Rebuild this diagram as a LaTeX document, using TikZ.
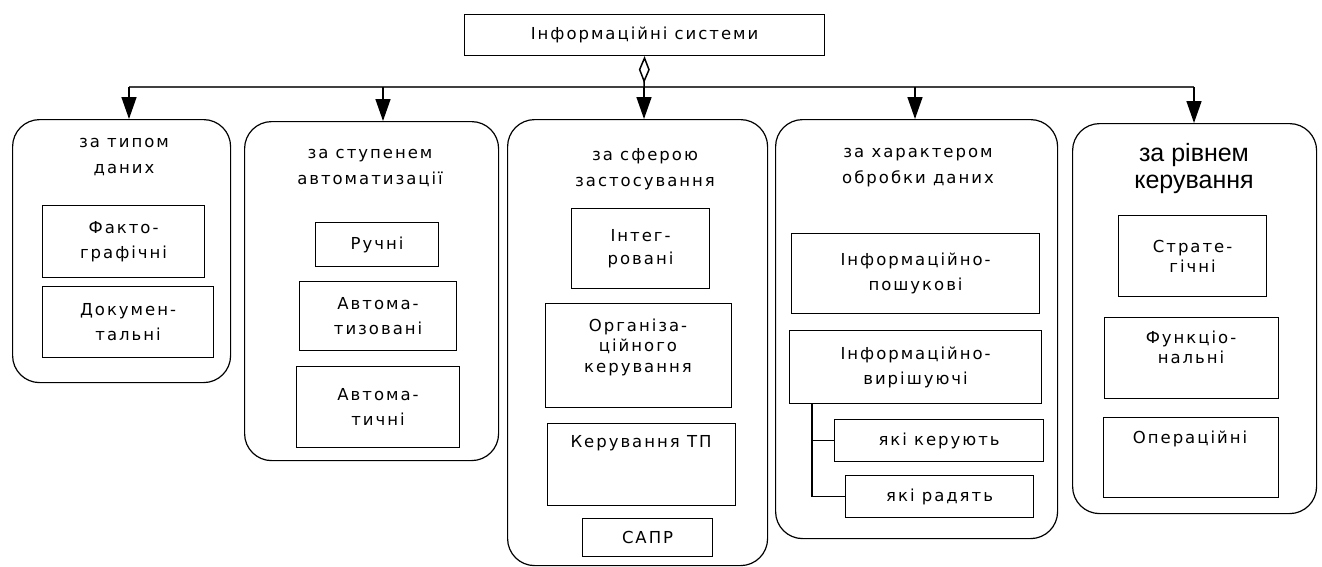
\documentclass[tikz,border=0pt]{standalone}
\usepackage{fontspec}
\setmainfont{DejaVu Sans}[LetterSpace=12]
\newfontfamily\hdfont{Liberation Sans}
\usetikzlibrary{arrows.meta,positioning}

\tikzset{
  colbox/.style={draw, line width=1.2pt, rounded corners=27pt, anchor=north west, inner sep=0pt},
  ibox/.style={draw, line width=1.1pt, anchor=north west, align=center, inner sep=0pt},
  hd/.style={align=center, font=\fontsize{16.5}{26}\selectfont},
  txt/.style={align=center},
  bus/.style={line width=1.5pt, draw=black!75},
  tip/.style={line width=1.5pt, -{Triangle[width=15pt,length=22pt]}},
}

\begin{document}
\begin{tikzpicture}[x=1pt, y=-1pt, font=\fontsize{16.5}{25}\selectfont]
\useasboundingbox (0,0) rectangle (1322,566);

% root
\node[ibox, minimum width=360, minimum height=41] (root) at (464,14) {Інформаційні системи};

% bus and connector points
\coordinate (b1) at (129,87);
\coordinate (b2) at (383,87);
\coordinate (b3) at (644,87);
\coordinate (b4) at (915,87);
\coordinate (b5) at (1194,87);
\draw[bus] (b1) -- (b5);
\draw[line width=1.5pt, {Diamond[open,length=27pt,width=11pt]}-] (root.south) -- (b3);

% category frames
\node[colbox, minimum width=218, minimum height=263] (c1) at (12,119) {};
\node[colbox, minimum width=254, minimum height=339] (c2) at (244,121) {};
\node[colbox, minimum width=260, minimum height=446] (c3) at (507,119) {};
\node[colbox, minimum width=282, minimum height=419] (c4) at (775,119) {};
\node[colbox, minimum width=244, minimum height=390] (c5) at (1072,123) {};

\draw[tip] (b1) -- (b1 |- c1.north);
\draw[tip] (b2) -- (b2 |- c2.north);
\draw[tip] (b3) -- (b3 |- c3.north);
\draw[tip] (b4) -- (b4 |- c4.north);
\draw[tip] (b5) -- (b5 |- c5.north);

% headers
\node[hd] (h1) at (124,157) {за типом\\даних};
\node[hd] (h2) at (370,168) {за ступенем\\автоматизації};
\node[hd] (h3) at (645,169) {за сферою\\застосування};
\node[hd] (h4) at (918,168) {за характером\\обробки даних};
\node[hd, font=\hdfont\fontsize{25}{27}\selectfont] (h5) at (1194,169) {за рівнем\\керування};

% column 1
\node[ibox, minimum width=162, minimum height=72] (f1) at (42,205) {Факто-\\графічні};
\node[ibox, minimum width=171, minimum height=71] (f2) at (42,286) {Докумен-\\тальні};

% column 2
\node[ibox, minimum width=123, minimum height=44] (a1) at (315,222) {Ручні};
\node[ibox, minimum width=157, minimum height=69] (a2) at (299,281) {Автома-\\тизовані};
\node[ibox, minimum width=163, minimum height=81] (a3) at (296,366) {Автома-\\тичні};

% column 3
\node[ibox, minimum width=138, minimum height=80, font=\fontsize{16.5}{23}\selectfont] (i1) at (571,208) {Інтег-\\ровані};
\node[ibox, minimum width=186, minimum height=104] (i2) at (545,303) {};
\node[txt, font=\fontsize{16.5}{20.5}\selectfont] (i2t) at (638,347) {Організа-\\ційного\\керування};
\node[ibox, minimum width=188, minimum height=82] (i3) at (547,423) {};
\node[txt] (i3t) at (641,443) {Керування ТП};
\node[ibox, minimum width=130, minimum height=38] (i4) at (582,518) {САПР};

% column 4
\node[ibox, minimum width=248, minimum height=80] (p1) at (791,233) {Інформаційно-\\пошукові};
\node[ibox, minimum width=252, minimum height=73] (p2) at (789,330) {Інформаційно-\\вирішуючі};
\node[ibox, minimum width=209, minimum height=42] (p3) at (834,419) {які керують};
\node[ibox, minimum width=188, minimum height=42] (p4) at (845,475) {які радять};
\coordinate (br) at (812,403);
\draw[line width=1.1pt] (br) |- (p3.west);
\draw[line width=1.1pt] (br) |- (p4.west);

% column 5
\node[ibox, minimum width=148, minimum height=81, font=\fontsize{16.5}{20}\selectfont] (s1) at (1118,215) {Страте-\\гічні};
\node[ibox, minimum width=174, minimum height=81] (s2) at (1104,317) {};
\node[txt, font=\fontsize{16.5}{20}\selectfont] (s2t) at (1191,347) {Функціо-\\нальні};
\node[ibox, minimum width=175, minimum height=80] (s3) at (1103,417) {};
\node[txt] (s3t) at (1190,439) {Операційні};
\end{tikzpicture}
\end{document}
